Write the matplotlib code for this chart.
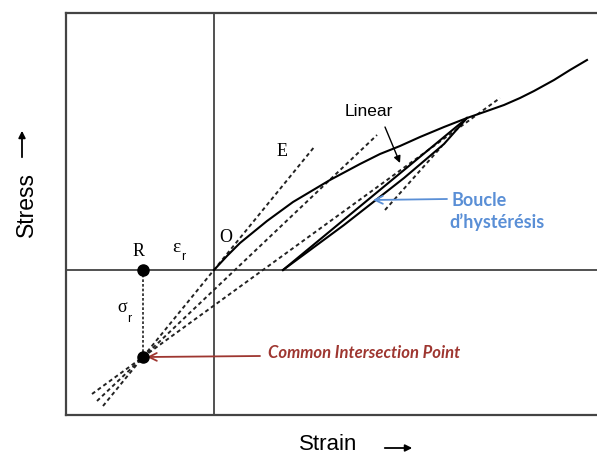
import matplotlib
matplotlib.use('Agg')
import matplotlib.pyplot as plt

# loading curve (strain, stress), arbitrary units
load_x = [0.0, 0.13, 0.26, 0.53, 0.79, 1.16, 1.46, 1.66, 1.86, 2.06, 2.30, 2.53,
          2.73, 2.90, 3.06, 3.20, 3.40, 3.56, 3.73]
load_y = [0.0, 0.14, 0.27, 0.49, 0.68, 0.90, 1.06, 1.16, 1.24, 1.33, 1.43, 1.52,
          1.59, 1.65, 1.72, 1.79, 1.90, 2.00, 2.10]

# hysteresis loop
loop_upper_x = [0.69, 2.53]
loop_upper_y = [0.0, 1.52]
loop_lower_x = [0.69, 1.30, 1.90, 2.30, 2.53]
loop_lower_y = [0.0, 0.45, 0.92, 1.26, 1.52]

# dashed lines through the common intersection point
e_line_x = [-1.11, 1.01]
e_line_y = [-1.36, 1.24]
mid_line_x = [-1.17, 1.63]
mid_line_y = [-1.31, 1.35]
loop_line_x = [-1.22, 2.86]
loop_line_y = [-1.24, 1.72]
short_line_x = [1.71, 2.28]
short_line_y = [0.60, 1.24]

point_R = (-0.71, 0.0)
point_C = (-0.71, -0.87)

W, H = 597, 455
fig = plt.figure(figsize=(W / 100, H / 100), dpi=100)
ax = fig.add_axes([66 / W, (H - 415) / H, (600 - 66) / W, (415 - 13) / H])
ax.set_xlim(-1.48, 3.86)
ax.set_ylim(-1.45, 2.57)
ax.set_xticks([])
ax.set_yticks([])
ax.spines['right'].set_visible(False)
for s in ['left', 'top', 'bottom']:
    ax.spines[s].set_color('#444444')
    ax.spines[s].set_linewidth(1.6)

# axes through origin
ax.axhline(0, color='#333333', lw=1.2)
ax.axvline(0, color='#333333', lw=1.2)

dash = (0, (2.0, 1.6))
for xs, ys in [(e_line_x, e_line_y), (mid_line_x, mid_line_y),
               (loop_line_x, loop_line_y), (short_line_x, short_line_y)]:
    ax.plot(xs, ys, color='#222222', lw=1.4, linestyle=dash)

ax.plot([point_R[0], point_C[0]], [point_R[1], point_C[1]],
        color='#222222', lw=1.2, linestyle=(0, (1.6, 1.2)))

ax.plot(load_x, load_y, color='black', lw=1.5)
ax.plot(loop_upper_x, loop_upper_y, color='black', lw=1.5)
ax.plot(loop_lower_x, loop_lower_y, color='black', lw=1.5)

ax.plot(*point_R, 'o', color='black', markersize=8, zorder=5)
ax.plot(*point_C, 'o', color='black', markersize=8, zorder=5)

# labels on the diagram
serif = 'Liberation Serif'
ax.text(-0.75, 0.19, 'R', family=serif, fontsize=13, ha='center', va='center')
ax.text(-0.38, 0.23, 'ε', family=serif, fontsize=14, ha='center', va='center')
ax.text(-0.31, 0.13, 'r', family='Liberation Sans', fontsize=9, ha='center', va='center')
ax.text(-0.92, -0.37, 'σ', family=serif, fontsize=13, ha='center', va='center')
ax.text(-0.85, -0.49, 'r', family='Liberation Sans', fontsize=9, ha='center', va='center')
ax.text(0.12, 0.33, 'O', family=serif, fontsize=13, ha='center', va='center')
ax.text(0.68, 1.19, 'E', family=serif, fontsize=13, ha='center', va='center')

ax.text(1.55, 1.59, 'Linear', family='Liberation Sans', fontsize=12.5,
        ha='center', va='center')
ax.annotate('', xy=(1.86, 1.07), xytext=(1.71, 1.43),
            arrowprops=dict(arrowstyle='-|>', color='black', lw=1.0,
                            mutation_scale=10, shrinkA=0, shrinkB=0))

blue = '#5A8FD6'
ax.text(2.65, 0.69, 'Boucle', family='Lato', fontweight='bold', fontsize=13,
        color=blue, ha='center', va='center')
ax.text(2.83, 0.48, 'd\u2019hystérésis', family='Lato', fontweight='bold',
        fontsize=13, color=blue, ha='center', va='center')
ax.annotate('', xy=(1.59, 0.70), xytext=(2.33, 0.71),
            arrowprops=dict(arrowstyle='->', color=blue, lw=1.3,
                            mutation_scale=14, shrinkA=0, shrinkB=0))

red = '#9E3630'
ax.text(0.54, -0.83, 'Common Intersection Point', family='Lato',
        fontweight='bold', fontstyle='italic', fontsize=12, color=red,
        ha='left', va='center')
ax.annotate('', xy=(-0.67, -0.87), xytext=(0.46, -0.86),
            arrowprops=dict(arrowstyle='->', color=red, lw=1.3,
                            mutation_scale=14, shrinkA=0, shrinkB=0))

# axis titles with arrows
fig.text(26 / W, 1 - 205 / H, 'Stress', family='Liberation Sans', fontsize=16.5,
         rotation=90, ha='center', va='center')
fig.add_artist(matplotlib.patches.FancyArrowPatch(
    (22 / W, 1 - 160 / H), (22 / W, 1 - 128 / H), transform=fig.transFigure,
    arrowstyle='-|>', mutation_scale=10, color='black', lw=1.3))
fig.text(328 / W, 1 - 444 / H, 'Strain', family='Liberation Sans', fontsize=16,
         ha='center', va='center')
fig.add_artist(matplotlib.patches.FancyArrowPatch(
    (382 / W, 1 - 448 / H), (415 / W, 1 - 448 / H), transform=fig.transFigure,
    arrowstyle='-|>', mutation_scale=10, color='black', lw=1.3))

fig.savefig('out.png', dpi=100)
